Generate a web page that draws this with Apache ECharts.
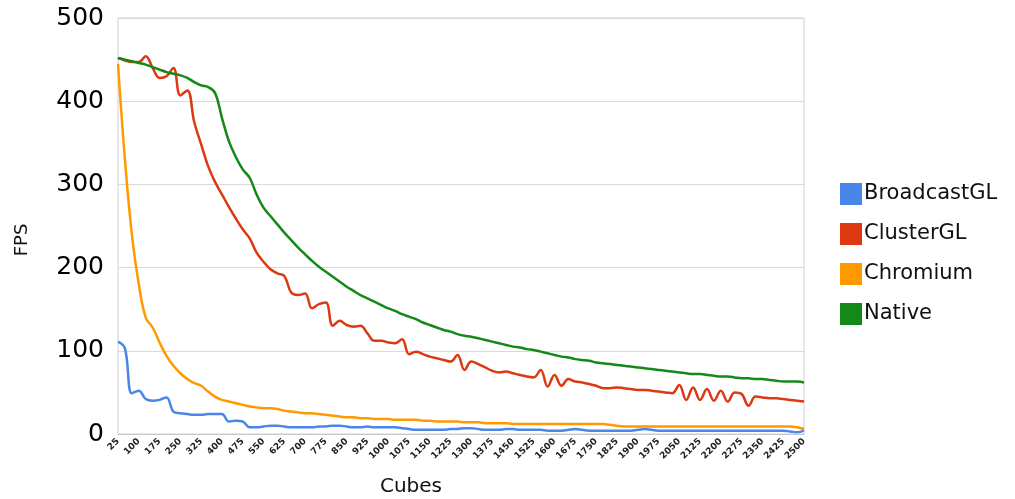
<!DOCTYPE html>
<html>
<head>
<meta charset="utf-8">
<script src="https://cdn.jsdelivr.net/npm/echarts@6/dist/echarts.min.js"></script>
<style>
  html, body { margin: 0; padding: 0; background: #fff; }
  #main { width: 1015px; height: 499px; }
</style>
</head>
<body>
<div id="main"></div>
<script>
// cube counts 25..2500, step 25
var cubes = [];
for (var c = 25; c <= 2500; c += 25) cubes.push(String(c));

var broadcastGL = [111, 103, 49, 52, 42, 40, 41, 44, 27, 25,
  24, 23, 23, 24, 24, 24, 15, 16, 15, 8,
  8, 9, 10, 10, 9, 8, 8, 8, 8, 9,
  9, 10, 10, 9, 8, 8, 9, 8, 8, 8,
  8, 7, 6, 5, 5, 5, 5, 5, 6, 6,
  7, 7, 6, 5, 5, 5, 6, 6, 5, 5,
  5, 5, 4, 4, 4, 5, 6, 5, 4, 4,
  4, 4, 4, 4, 4, 5, 6, 5, 4, 4,
  4, 4, 4, 4, 4, 4, 4, 4, 4, 4,
  4, 4, 4, 4, 4, 4, 4, 3, 2, 4];

var clusterGL = [452, 449, 447, 447, 454, 440, 428, 430, 440, 407,
  413, 375, 348, 322, 303, 288, 273, 259, 246, 235,
  218, 207, 198, 193, 190, 170, 167, 169, 151, 156,
  158, 130, 136, 131, 129, 130, 121, 112, 112, 110,
  109, 114, 96, 99, 96, 93, 91, 89, 87, 95,
  77, 87, 84, 80, 76, 74, 75, 73, 71, 69,
  68, 77, 57, 71, 58, 66, 63, 62, 60, 58,
  55, 55, 56, 55, 54, 53, 53, 52, 51, 50,
  49, 59, 41, 56, 41, 54, 40, 52, 39, 50,
  48, 34, 45, 44, 43, 43, 42, 41, 40, 39];

var chromium = [445, 330, 240, 180, 140, 128, 110, 94, 82, 73,
  66, 61, 58, 51, 45, 41, 39, 37, 35, 33,
  32, 31, 31, 30, 28, 27, 26, 25, 25, 24,
  23, 22, 21, 20, 20, 19, 19, 18, 18, 18,
  17, 17, 17, 17, 16, 16, 15, 15, 15, 15,
  14, 14, 14, 13, 13, 13, 13, 12, 12, 12,
  12, 12, 12, 12, 12, 12, 12, 12, 12, 12,
  12, 11, 10, 9, 9, 9, 9, 9, 9, 9,
  9, 9, 9, 9, 9, 9, 9, 9, 9, 9,
  9, 9, 9, 9, 9, 9, 9, 9, 8, 6];

var native = [452, 450, 448, 446, 444, 441, 438, 435, 433, 431,
  428, 423, 419, 417, 410, 380, 352, 333, 318, 308,
  288, 272, 262, 252, 242, 233, 224, 216, 208, 201,
  195, 189, 183, 177, 172, 167, 163, 159, 155, 151,
  148, 144, 141, 138, 134, 131, 128, 125, 123, 120,
  118, 117, 115, 113, 111, 109, 107, 105, 104, 102,
  101, 99, 97, 95, 93, 92, 90, 89, 88, 86,
  85, 84, 83, 82, 81, 80, 79, 78, 77, 76,
  75, 74, 73, 72, 72, 71, 70, 69, 69, 68,
  67, 67, 66, 66, 65, 64, 63, 63, 63, 62];

var seriesNames = ['BroadcastGL', 'ClusterGL', 'Chromium', 'Native'];
var seriesData = [broadcastGL, clusterGL, chromium, native];
var colors = ['#4a86e8', '#dc3912', '#ff9900', '#138a17'];

var chart = echarts.init(document.getElementById('main'));

var option = {
  animation: false,
  color: colors,
  textStyle: { fontFamily: 'DejaVu Sans' },
  grid: {
    left: 118, right: 211, top: 18, bottom: 65,
    outerBoundsMode: 'none',
    show: true, borderColor: '#d0d0d0', borderWidth: 1
  },
  legend: {
    orient: 'vertical',
    left: 835, top: 178,
    itemWidth: 22, itemHeight: 22, itemGap: 18,
    icon: 'rect',
    textStyle: { fontSize: 21, color: '#111', padding: [0, 0, 0, -3] },
    data: seriesNames
  },
  xAxis: {
    type: 'category',
    data: cubes,
    boundaryGap: false,
    name: 'Cubes',
    nameLocation: 'middle',
    nameGap: 43,
    nameTextStyle: { fontSize: 20, color: '#111', padding: [0, 100, 0, 0] },
    axisLine: { lineStyle: { color: '#c8c8c8' } },
    axisTick: { show: false },
    axisLabel: {
      interval: 2, rotate: 45, fontSize: 9, fontWeight: 'bold',
      color: '#222', margin: 6
    },
    splitLine: { show: false }
  },
  yAxis: {
    type: 'value',
    min: 0, max: 500, interval: 100,
    name: 'FPS',
    nameLocation: 'middle',
    nameGap: 87,
    nameRotate: 90,
    nameTextStyle: { fontSize: 18, color: '#111', padding: [0, 0, 0, -28] },
    axisLine: { show: false },
    axisTick: { show: false },
    axisLabel: { fontSize: 25, color: '#000', margin: 14 },
    splitLine: { lineStyle: { color: '#d9d9d9', width: 1 } }
  },
  series: seriesNames.map(function (name, k) {
    return {
      name: name,
      type: 'line',
      data: seriesData[k],
      smooth: 0.4,
      showSymbol: false,
      symbol: 'none',
      lineStyle: { width: 2.5, color: colors[k] }
    };
  })
};

chart.setOption(option);
</script>
</body>
</html>
